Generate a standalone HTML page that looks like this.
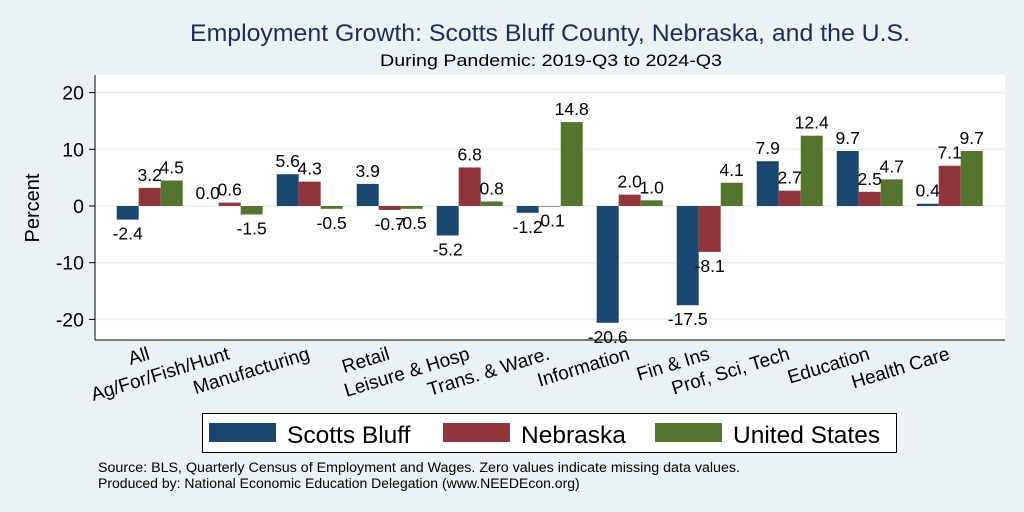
<!DOCTYPE html>
<html><head><meta charset="utf-8"><style>
html,body{margin:0;padding:0;background:#eaf2f3;}
svg{display:block;font-family:"Liberation Sans",Arial,sans-serif;}
</style></head><body>
<svg id="chart" width="1024" height="512" viewBox="0 0 1024 512">
<rect x="0" y="0" width="1024" height="512" fill="#eaf2f3"/>
<text x="550" y="41" font-size="24.5" fill="#1a2e5a" text-anchor="middle" textLength="720" lengthAdjust="spacingAndGlyphs">Employment Growth: Scotts Bluff County, Nebraska, and the U.S.</text>
<text x="551" y="66" font-size="17" fill="#000" text-anchor="middle" textLength="342" lengthAdjust="spacingAndGlyphs">During Pandemic: 2019-Q3 to 2024-Q3</text>
<rect x="95" y="75" width="910" height="265" fill="#fff"/>
<g id="grid"></g>
<g id="bars"></g>
<g id="vlabels"></g>
<line x1="95" y1="75" x2="95" y2="340" stroke="#000" stroke-width="1"/>
<line x1="95" y1="340" x2="1005" y2="340" stroke="#000" stroke-width="1"/>
<g id="yticks"></g>
<g id="xlabels"></g>
<text x="39" y="208" font-size="20" text-anchor="middle" transform="rotate(-90 39 208)">Percent</text>
<g>
<rect x="202.5" y="413.5" width="694" height="39" fill="#fff" stroke="#000" stroke-width="1"/>
<rect x="209" y="423" width="67" height="19" fill="#1a476f"/>
<text x="287" y="443" font-size="24.5">Scotts Bluff</text>
<rect x="443" y="423" width="67" height="19" fill="#90353b"/>
<text x="521" y="443" font-size="24.5">Nebraska</text>
<rect x="655" y="423" width="67" height="19" fill="#55752f"/>
<text x="733" y="443" font-size="24.5">United States</text>
</g>
<text x="98" y="472" font-size="13.5" textLength="642" lengthAdjust="spacingAndGlyphs">Source: BLS, Quarterly Census of Employment and Wages. Zero values indicate missing data values.</text>
<text x="98" y="488" font-size="14">Produced by: National Economic Education Delegation (www.NEEDEcon.org)</text>
</svg>
<script>
const categories = ["All","Ag/For/Fish/Hunt","Manufacturing","Retail","Leisure & Hosp","Trans. & Ware.","Information","Fin & Ins","Prof, Sci, Tech","Education","Health Care"];
const scottsBluff = [-2.4,0.0,5.6,3.9,-5.2,-1.2,-20.6,-17.5,7.9,9.7,0.4];
const nebraska = [3.2,0.6,4.3,-0.7,6.8,-0.1,2.0,-8.1,2.7,2.5,7.1];
const unitedStates = [4.5,-1.5,-0.5,-0.5,0.8,14.8,1.0,4.1,12.4,4.7,9.7];
const yTicks = [-20,-10,0,10,20];
const seriesNames = ["scotts-bluff","nebraska","united-states"];
const colors = ["#1a476f","#90353b","#55752f"];
const NS = "http://www.w3.org/2000/svg";
function y(v){ return 206 - v*5.67; }
function xc(i){ return 149.7 + i*80; }
const bw = 22;
function mk(tag, attrs, parent){ const e=document.createElementNS(NS,tag); for(const k in attrs) e.setAttribute(k,attrs[k]); parent.appendChild(e); return e; }
const grid=document.getElementById('grid'), yt=document.getElementById('yticks');
yTicks.forEach(t=>{
  const l=mk('line',{x1:95,x2:1005,y1:y(t),y2:y(t),stroke:'#eaf2f3','stroke-width':1.5},grid);
  
  
  const tk=mk('line',{x1:89,x2:95,y1:y(t),y2:y(t),stroke:'#000'},yt);
  
  
  const tx=mk('text',{x:84,y:y(t)+7,'font-size':19.5,'text-anchor':'end'},yt);
  tx.textContent=String(t);
  
  
});
const bars=document.getElementById('bars'), vl=document.getElementById('vlabels');
[scottsBluff,nebraska,unitedStates].forEach((s,si)=>{
  s.forEach((v,i)=>{
    const x0=xc(i)-33+si*bw;
    const top=Math.min(y(v),y(0)), h=Math.abs(y(v)-y(0));
    const r=mk('rect',{x:x0,y:top,width:bw,height:Math.max(h,0.01),fill:colors[si]},bars);
    
    
    const ly = v>=0 ? y(v)-7 : y(v)+20;
    const t=mk('text',{x:x0+bw/2,y:ly,'font-size':17.5,'text-anchor':'middle'},vl);
    t.textContent=v.toFixed(1);
    
    
  });
});
const xl=document.getElementById('xlabels');
categories.forEach((c,i)=>{
  const x=xc(i)+1, yy=359;
  const t=mk('text',{x:x,y:yy,'font-size':19,'text-anchor':'end',transform:`rotate(-17 ${x} ${yy})`},xl);
  t.textContent=c;
  
  
});
</script>
</body></html>
